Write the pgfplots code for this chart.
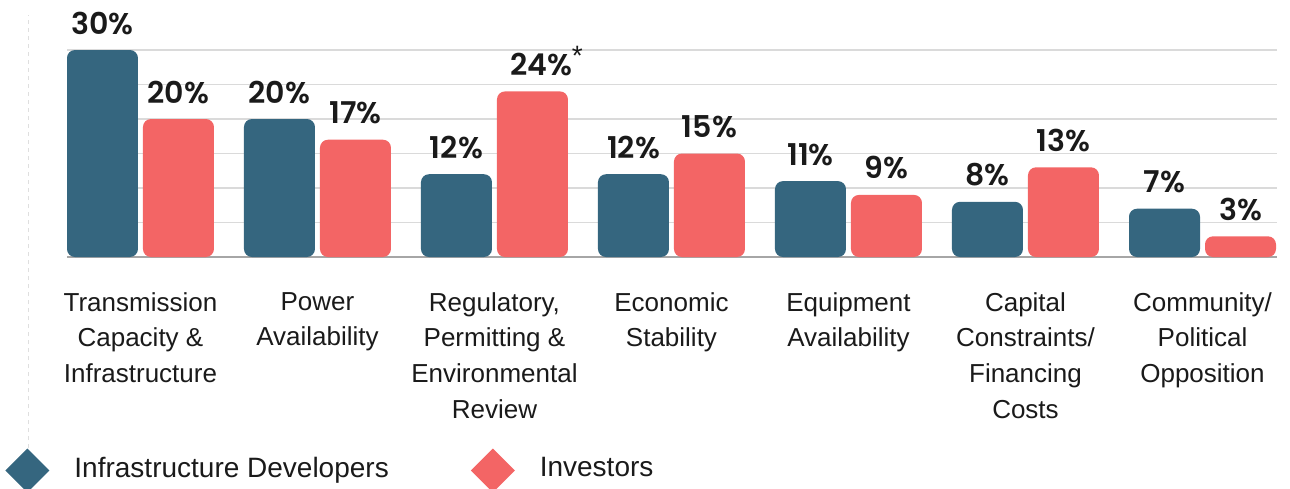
\documentclass[border=0pt]{standalone}
\usepackage{fontspec}
\setmainfont{Liberation Sans}
\newfontfamily\valfont{Poppins SemiBold}
\usepackage{pgfplots}
\pgfplotsset{compat=1.18}
\definecolor{dev}{HTML}{35667F}
\definecolor{inv}{HTML}{F36565}
\definecolor{gridc}{HTML}{DADADA}
\definecolor{txt}{HTML}{1A1A1A}

\begin{document}
\begin{tikzpicture}
\path[use as bounding box] (0,0) rectangle (645pt,244pt);
\draw[gray!25, dash pattern=on 2pt off 2pt, line width=0.5pt] (14pt,20pt) -- (14pt,236.5pt);
\begin{axis}[
  at={(33.5pt,115.5pt)}, anchor=south west,
  scale only axis, width=605pt, height=127.65pt,
  xmin=-0.415, xmax=6.421, ymin=0, ymax=37,
  y coord trafo/.code=\pgfmathparse{#1+3},
  y coord inv trafo/.code=\pgfmathparse{#1-3},
  axis line style={draw=none},
  ytick={5,10,...,30}, yticklabels={},
  ymajorgrids, grid style={gridc, line width=0.8pt},
  extra y ticks={0}, extra y tick labels={},
  extra y tick style={grid style={black!35, line width=0.8pt}},
  major tick length=0pt,
  xtick={0,...,6},
  xticklabels={
    Transmission\\Capacity \&\\Infrastructure,
    Power\\Availability,
    {Regulatory,\\Permitting \&\\Environmental\\Review},
    Economic\\Stability,
    Equipment\\Availability,
    Capital\\Constraints/\\Financing\\Costs,
    Community/\\Political\\Opposition},
  xticklabel style={align=center, font=\fontsize{13}{17.8}\selectfont, text=txt,
    anchor=north, inner sep=0pt, yshift=-17.5pt},
  ybar,
  point meta=explicit symbolic,
  nodes near coords,
  every node near coord/.append style={font=\valfont\fontsize{15}{18}\selectfont,
    anchor=base, inner sep=0pt, yshift=8pt, text=txt},
  legend columns=2,
  legend style={at={(-0.0512,-0.8363)}, anchor=west, draw=none, fill=none,
    font=\fontsize{14}{17}\selectfont, text=txt, inner sep=0pt,
    nodes={inner sep=0pt},
    /tikz/every odd column/.append style={column sep=12.5pt},
    /tikz/every even column/.append style={column sep=41pt}},
]
\addplot[fill=dev, draw=none, bar width=35.5pt, bar shift=-19pt, rounded corners=4pt,
  legend image code/.code={\fill[sharp corners] (0pt,-1pt) -- (11pt,10pt) -- (22pt,-1pt) -- (11pt,-12pt) -- cycle;}]
  coordinates {(0,30) [30\%] (1,20) [20\%] (2,12) [12\%] (3,12) [12\%] (4,11) [11\%] (5,8) [8\%] (6,7) [7\%]};
\addplot[fill=inv, draw=none, bar width=35.5pt, bar shift=19pt, rounded corners=4pt,
  legend image code/.code={\fill[sharp corners] (0pt,-1pt) -- (11pt,10pt) -- (22pt,-1pt) -- (11pt,-12pt) -- cycle;}]
  coordinates {(0,20) [20\%] (1,17) [17\%] (2,24) [\hspace*{8.5pt}24\%\rlap{\rmfamily\fontsize{14}{14}\selectfont\raisebox{5pt}{*}}] (3,15) [15\%] (4,9) [9\%] (5,13) [13\%] (6,3) [3\%]};
\legend{Infrastructure Developers, Investors}
\end{axis}
\end{tikzpicture}
\end{document}
